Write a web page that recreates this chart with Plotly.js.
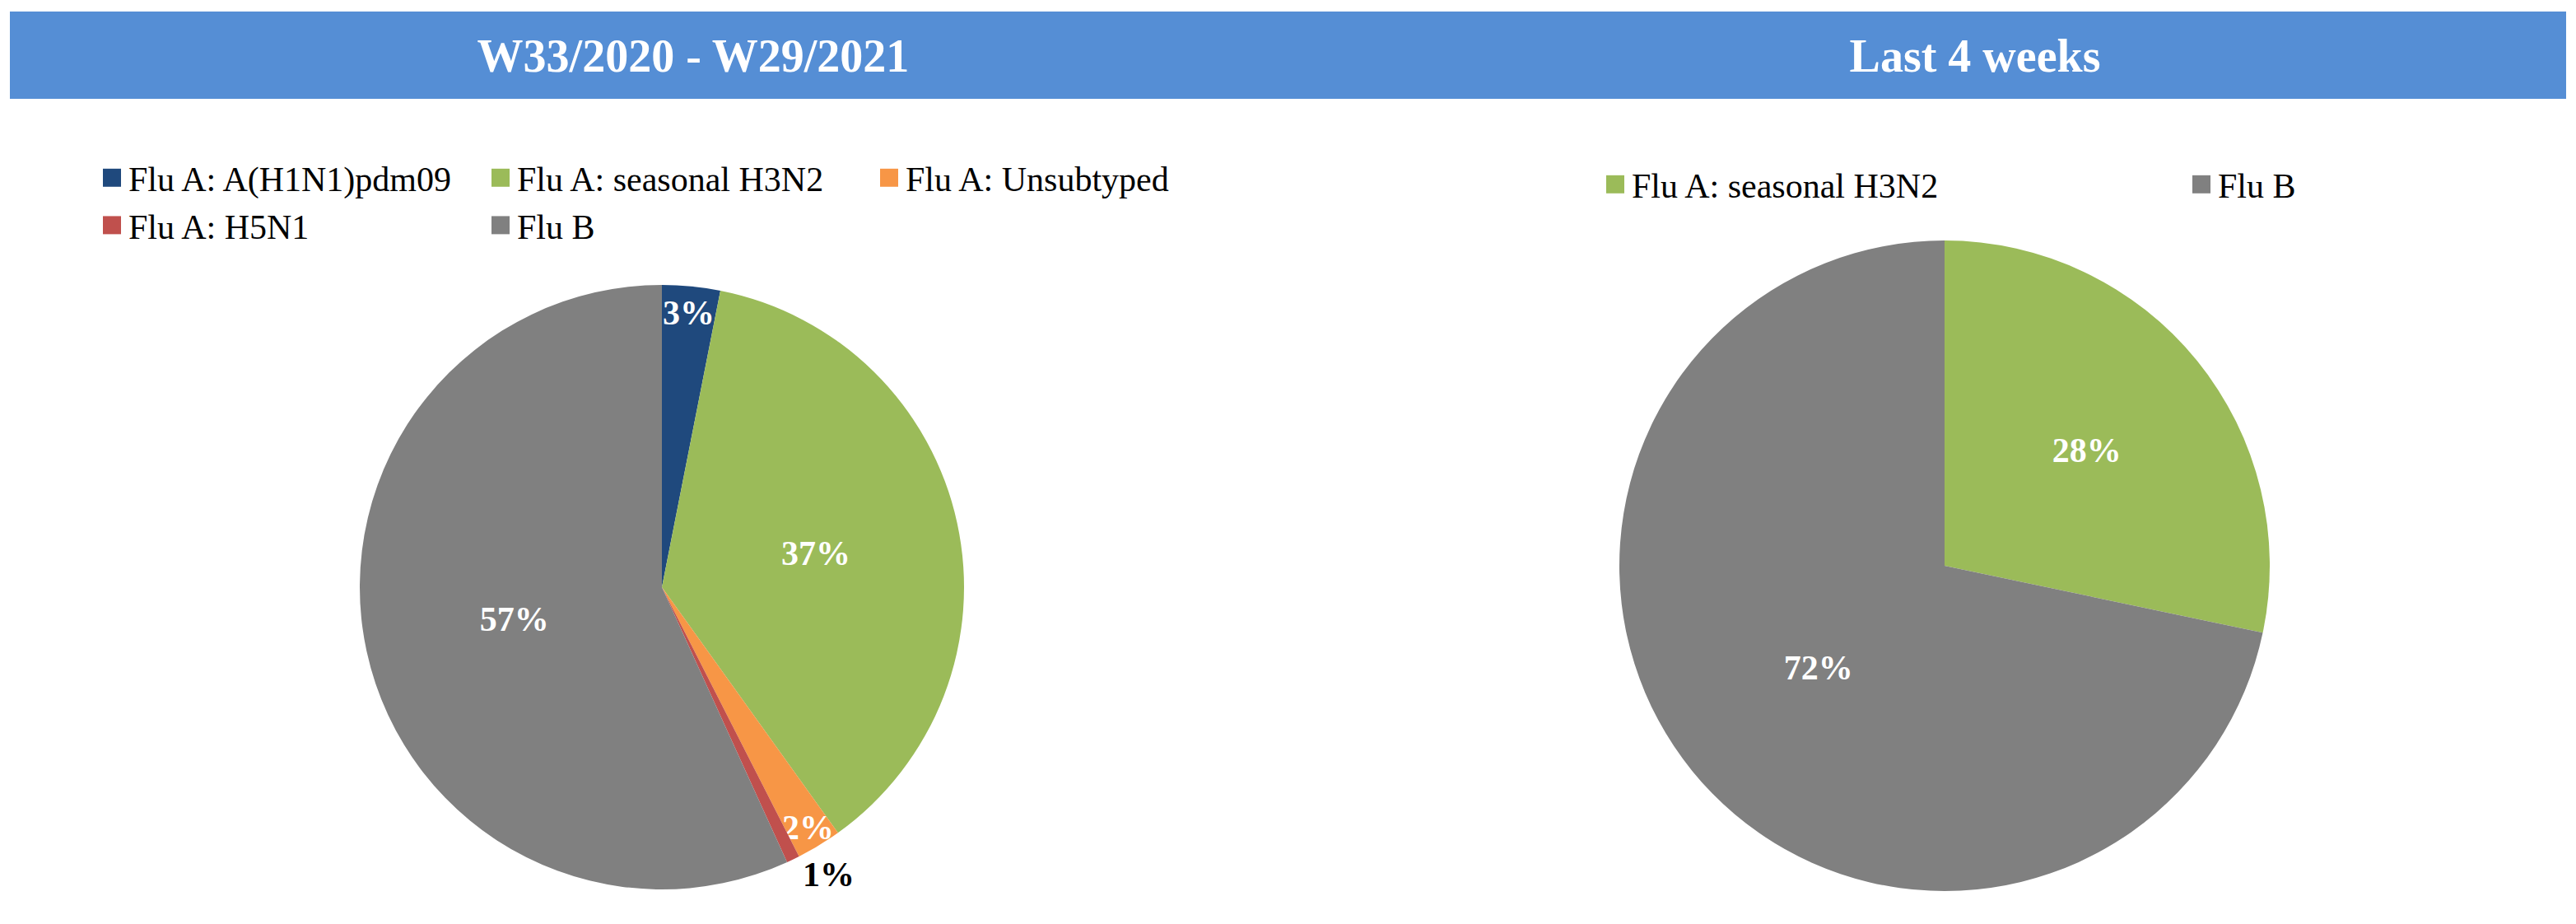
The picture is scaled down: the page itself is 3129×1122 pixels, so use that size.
<!DOCTYPE html>
<html>
<head>
<meta charset="utf-8">
<script src="https://cdn.plot.ly/plotly-3.0.1.min.js"></script>
<style>
  html, body { margin: 0; padding: 0; background: #ffffff; }
  #wrap { position: relative; width: 3129px; height: 1122px; overflow: hidden; }
  #left { position: absolute; left: 0; top: 0; width: 1564px; height: 1122px; }
  #right { position: absolute; left: 1564px; top: 0; width: 2000px; height: 1122px; }
  .legendpie { transform: translate(20px, 0px) scale(1.83); }
</style>
</head>
<body>
<div id="wrap">
  <div id="left"></div>
  <div id="right"></div>
</div>
<script>
// ---- Data ----
const leftTitle = "W33/2020 - W29/2021";
const rightTitle = "Last 4 weeks";

const leftLabels = ["Flu A: A(H1N1)pdm09", "Flu A: seasonal H3N2", "Flu A: Unsubtyped", "Flu A: H5N1", "Flu B"];
const leftValues = [3.1, 37.0, 2.4, 0.7, 56.8];

const rightLabels = ["Flu A: seasonal H3N2", "Flu B"];
const rightValues = [28.3, 71.7];

// ---- Styles ----
const colorMap = {
  "Flu A: A(H1N1)pdm09": "#1F497D",
  "Flu A: seasonal H3N2": "#9BBB59",
  "Flu A: Unsubtyped": "#F79646",
  "Flu A: H5N1": "#C0504D",
  "Flu B": "#808080"
};
const serif = "'Liberation Serif', 'Times New Roman', serif";
const barColor = "#558ED5";
const RW = 2000; // right plot width (clipped by wrapper)

function header(x0, x1) {
  return {
    type: "rect", xref: "paper", yref: "paper",
    x0: x0, x1: x1, y0: 1 - 120 / 1122, y1: 1 - 14 / 1122,
    fillcolor: barColor, line: { width: 0 }, layer: "below"
  };
}

const leftTrace = {
  type: "pie",
  labels: leftLabels,
  values: leftValues,
  sort: false,
  direction: "clockwise",
  rotation: 0,
  marker: { colors: leftLabels.map(l => colorMap[l]), line: { width: 0 } },
  texttemplate: "%{percent:.0%}",
  textposition: ["inside", "inside", "inside", "outside", "inside"],
  insidetextorientation: "horizontal",
  insidetextfont: { family: serif, size: 42, color: "#ffffff", weight: "bold" },
  outsidetextfont: { family: serif, size: 42, color: "#000000", weight: "bold" },
  domain: { x: [437 / 1564, 1171 / 1564], y: [42 / 1122, 776 / 1122] },
  hoverinfo: "label+percent",
  automargin: false
};

const leftLayout = {
  width: 1564, height: 1122,
  margin: { l: 0, r: 0, t: 0, b: 0 },
  paper_bgcolor: "#ffffff",
  plot_bgcolor: "#ffffff",
  uniformtext: { mode: "show", minsize: 42 },
  title: {
    text: leftTitle,
    x: 842 / 1564, xanchor: "center", xref: "container",
    y: 1 - 67 / 1122, yanchor: "middle", yref: "container",
    font: { family: serif, size: 56, color: "#ffffff", weight: "bold" }
  },
  shapes: [header(12 / 1564, 1)],
  showlegend: true,
  legend: {
    orientation: "h",
    x: 116 / 1564, xanchor: "left",
    y: 1 - 182 / 1122, yanchor: "top",
    entrywidth: 427,
    entrywidthmode: "pixels",
    traceorder: "normal",
    font: { family: serif, size: 42, color: "#000000" },
    bgcolor: "rgba(0,0,0,0)"
  }
};

const rightTrace = {
  type: "pie",
  labels: rightLabels,
  values: rightValues,
  sort: false,
  direction: "clockwise",
  rotation: 0,
  marker: { colors: rightLabels.map(l => colorMap[l]), line: { width: 0 } },
  texttemplate: "%{percent:.0%}",
  textposition: "inside",
  insidetextorientation: "horizontal",
  insidetextfont: { family: serif, size: 42, color: "#ffffff", weight: "bold" },
  domain: { x: [403 / RW, 1193 / RW], y: [40 / 1122, 830 / 1122] },
  hoverinfo: "label+percent"
};

const rightLayout = {
  width: RW, height: 1122,
  margin: { l: 0, r: 0, t: 0, b: 0 },
  paper_bgcolor: "#ffffff",
  plot_bgcolor: "#ffffff",
  uniformtext: { mode: "show", minsize: 42 },
  title: {
    text: rightTitle,
    x: 835 / RW, xanchor: "center", xref: "container",
    y: 1 - 67 / 1122, yanchor: "middle", yref: "container",
    font: { family: serif, size: 56, color: "#ffffff", weight: "bold" }
  },
  shapes: [header(0, 1553 / RW)],
  showlegend: true,
  legend: {
    orientation: "h",
    x: 378 / RW, xanchor: "left",
    y: 1 - 190 / 1122, yanchor: "top",
    entrywidth: 667,
    entrywidthmode: "pixels",
    font: { family: serif, size: 42, color: "#000000" },
    bgcolor: "rgba(0,0,0,0)"
  }
};

const config = { staticPlot: true, displayModeBar: false };
Plotly.newPlot("left", [leftTrace], leftLayout, config);
Plotly.newPlot("right", [rightTrace], rightLayout, config);
</script>
</body>
</html>
